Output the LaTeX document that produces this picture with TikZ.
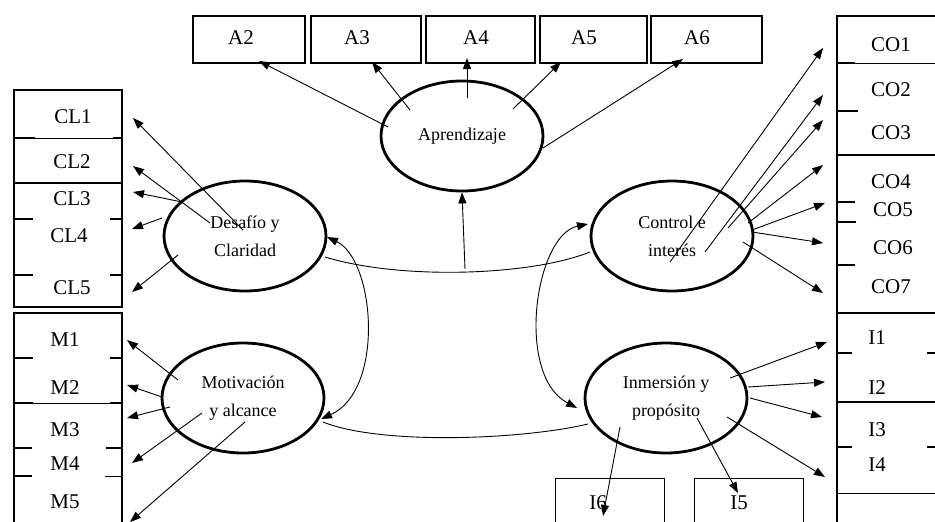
\documentclass[tikz,border=0pt]{standalone}
\usepackage{fontspec}
\setmainfont{Liberation Serif}
\usetikzlibrary{arrows.meta,shapes.geometric}

\begin{document}
\begin{tikzpicture}[x=1pt,y=-1pt,
    latente/.style={draw,ellipse,line width=2.8pt,minimum width=162pt,minimum height=110pt,
        inner sep=0pt,align=center,font=\fontsize{18}{28}\selectfont},
    item/.style={inner sep=0pt,font=\fontsize{21}{22}\selectfont},
    carga/.style={-{Triangle[length=11pt,width=8pt]},line width=0.9pt},
    doble/.style={{Triangle[length=11pt,width=8pt]}-{Triangle[length=11pt,width=8pt]},line width=0.9pt},
    marco/.style={line width=2.8pt},
    fino/.style={line width=0.9pt}]
    \path[use as bounding box] (0,0) rectangle (935,522);
    \clip (0,0) rectangle (935,522);

    \draw[marco] (193,16) rectangle (305,63);
    \draw[marco] (311,16) rectangle (421,63);
    \draw[marco] (426,16) rectangle (535,63);
    \draw[marco] (540,16) rectangle (647,63);
    \draw[marco] (651,16) rectangle (762,63);
    \node[item] (a2) at (241,38) {A2};
    \node[item] (a3) at (357,38) {A3};
    \node[item] (a4) at (476,38) {A4};
    \node[item] (a5) at (584,38) {A5};
    \node[item] (a6) at (697,38) {A6};

    \draw[marco] (14,90) rectangle (122,307);
    \draw[fino] (14,138) -- (122,138);
    \draw[marco] (14,138) -- (35,138) (113,138) -- (122,138);
    \draw[marco] (14,183) -- (122,183);
    \draw[marco] (14,219) -- (33,219) (110,219) -- (122,219);
    \draw[marco] (14,275) -- (33,275) (110,275) -- (122,275);
    \draw[marco] (14,530) |- (122,313) -- (122,530);
    \draw[marco] (14,358) -- (33,358) (110,358) -- (122,358);
    \draw[fino] (14,403) -- (122,403);
    \draw[marco] (14,403) -- (33,403) (110,403) -- (122,403);
    \draw[marco] (14,448) -- (32,448) (106,448) -- (122,448);
    \draw[marco] (14,476) -- (32,476);
    \draw[fino] (105,476) -- (122,476);
    \node[item] (cl1) at (73,117) {CL1};
    \node[item] (cl2) at (72,162) {CL2};
    \node[item] (cl3) at (72,199) {CL3};
    \node[item] (cl4) at (69,236) {CL4};
    \node[item] (cl5) at (72,288) {CL5};
    \node[item] (m1) at (65,340) {M1};
    \node[item] (m2) at (65,388) {M2};
    \node[item] (m3) at (65,430) {M3};
    \node[item] (m4) at (65,464) {M4};
    \node[item] (m5) at (65,502) {M5};

    \draw[marco] (837,530) -- (837,16) -- (945,16);
    \draw[fino] (837,63) -- (945,63);
    \draw[marco] (837,63) -- (855,63);
    \draw[marco] (837,111) -- (858,111);
    \draw[marco] (837,155) -- (945,155);
    \draw[marco] (837,202) -- (855,202);
    \draw[marco] (837,222) -- (856,222);
    \draw[marco] (837,265) -- (855,265);
    \draw[marco] (837,313) -- (945,313);
    \draw[marco] (837,353) -- (852,353) (927,353) -- (945,353);
    \draw[marco] (837,402) -- (945,402);
    \draw[marco] (837,447) -- (852,447) (927,447) -- (945,447);
    \draw[fino] (837,493) -- (945,493);
    \node[item] (co1) at (891,45) {CO1};
    \node[item] (co2) at (891,90) {CO2};
    \node[item] (co3) at (891,133) {CO3};
    \node[item] (co4) at (891,182) {CO4};
    \node[item] (co5) at (893,210) {CO5};
    \node[item] (co6) at (893,248) {CO6};
    \node[item] (co7) at (891,287) {CO7};
    \node[item] (i1) at (877,338) {I1};
    \node[item] (i2) at (877,388) {I2};
    \node[item] (i3) at (877,430) {I3};
    \node[item] (i4) at (877,465) {I4};

    \draw[fino] (555,530) |- (664,478) -- (664,530);
    \draw[fino] (694,530) |- (803,478) -- (803,530);
    \node[item] (i6) at (598,503) {I6};
    \node[item] (i5) at (739,503) {I5};

    \node[latente] (aprend) at (462,136) {Aprendizaje};
    \node[latente] (desafio) at (245,236) {Desafío y\\Claridad};
    \node[latente] (control) at (672,236) {Control e\\interés};
    \node[latente] (motiv) at (243,398) {Motivación\\y alcance};
    \node[latente] (inmers) at (666,398) {Inmersión y\\propósito};

    \coordinate (sA2) at (388,127);
    \coordinate (tA2) at (259,61);
    \coordinate (sA3) at (410,110);
    \coordinate (tA3) at (372,62);
    \coordinate (sA4) at (467,98);
    \coordinate (tA4) at (467,58);
    \coordinate (sA5) at (513,109);
    \coordinate (tA5) at (561,62);
    \coordinate (sA6) at (543,148);
    \coordinate (tA6) at (683,59);
    \draw[carga] (sA2) -- (tA2);
    \draw[carga] (sA3) -- (tA3);
    \draw[carga] (sA4) -- (tA4);
    \draw[carga] (sA5) -- (tA5);
    \draw[carga] (sA6) -- (tA6);

    \coordinate (sCL1) at (243,230);
    \coordinate (tCL1) at (133,118);
    \coordinate (sCL2) at (210,223);
    \coordinate (tCL2) at (133,166);
    \coordinate (sCL3) at (182,202);
    \coordinate (tCL3) at (133,192);
    \coordinate (sCL4) at (162,218);
    \coordinate (tCL4) at (132,229);
    \coordinate (sCL5) at (178,255);
    \coordinate (tCL5) at (132,292);
    \draw[carga] (sCL1) -- (tCL1);
    \draw[carga] (sCL2) -- (tCL2);
    \draw[carga] (sCL3) -- (tCL3);
    \draw[carga] (sCL4) -- (tCL4);
    \draw[carga] (sCL5) -- (tCL5);

    \coordinate (sM1) at (178,380);
    \coordinate (tM1) at (127,340);
    \coordinate (sM2) at (162,397);
    \coordinate (tM2) at (127,385);
    \coordinate (sM3) at (170,407);
    \coordinate (tM3) at (127,418);
    \coordinate (sM4) at (202,413);
    \coordinate (tM4) at (132,463);
    \coordinate (sM5) at (245,422);
    \coordinate (tM5) at (130,522);
    \draw[carga] (sM1) -- (tM1);
    \draw[carga] (sM2) -- (tM2);
    \draw[carga] (sM3) -- (tM3);
    \draw[carga] (sM4) -- (tM4);
    \draw[carga] (sM5) -- (tM5);

    \coordinate (sCO1) at (670,262);
    \coordinate (tCO1) at (823,48);
    \coordinate (sCO2) at (705,252);
    \coordinate (tCO2) at (823,95);
    \coordinate (sCO3) at (728,228);
    \coordinate (tCO3) at (823,120);
    \coordinate (sCO4) at (748,223);
    \coordinate (tCO4) at (823,165);
    \coordinate (sCO5) at (752,230);
    \coordinate (tCO5) at (825,203);
    \coordinate (sCO6) at (752,232);
    \coordinate (tCO6) at (823,243);
    \coordinate (sCO7) at (743,242);
    \coordinate (tCO7) at (823,293);
    \draw[carga] (sCO1) -- (tCO1);
    \draw[carga] (sCO2) -- (tCO2);
    \draw[carga] (sCO3) -- (tCO3);
    \draw[carga] (sCO4) -- (tCO4);
    \draw[carga] (sCO5) -- (tCO5);
    \draw[carga] (sCO6) -- (tCO6);
    \draw[carga] (sCO7) -- (tCO7);

    \coordinate (sI1) at (730,378);
    \coordinate (tI1) at (827,342);
    \coordinate (sI2) at (748,387);
    \coordinate (tI2) at (825,382);
    \coordinate (sI3) at (750,398);
    \coordinate (tI3) at (822,417);
    \coordinate (sI4) at (727,417);
    \coordinate (tI4) at (825,477);
    \coordinate (sI6) at (620,427);
    \coordinate (tI6) at (603,516);
    \coordinate (sI5) at (697,418);
    \coordinate (tI5) at (738,493);
    \draw[carga] (sI1) -- (tI1);
    \draw[carga] (sI2) -- (tI2);
    \draw[carga] (sI3) -- (tI3);
    \draw[carga] (sI4) -- (tI4);
    \draw[carga] (sI6) -- (tI6);
    \draw[carga] (sI5) -- (tI5);

    \coordinate (dc1) at (325,257);
    \coordinate (dc2) at (590,252);
    \coordinate (medio) at (465,269);
    \draw[fino] (dc1) .. controls (400,280) and (530,276) .. (dc2);
    \draw[carga] (medio) -- (aprend.south);
    \coordinate (dm1) at (327,237);
    \coordinate (dm2) at (321,419);
    \draw[doble] (dm1) .. controls (375,260) and (385,390) .. (dm2);
    \coordinate (ci1) at (588,224);
    \coordinate (ci2) at (577,408);
    \draw[doble] (ci1) .. controls (535,235) and (515,375) .. (ci2);
    \coordinate (mi1) at (323,422);
    \coordinate (mi2) at (588,424);
    \draw[fino] (mi1) .. controls (380,445) and (520,440) .. (mi2);
\end{tikzpicture}
\end{document}
